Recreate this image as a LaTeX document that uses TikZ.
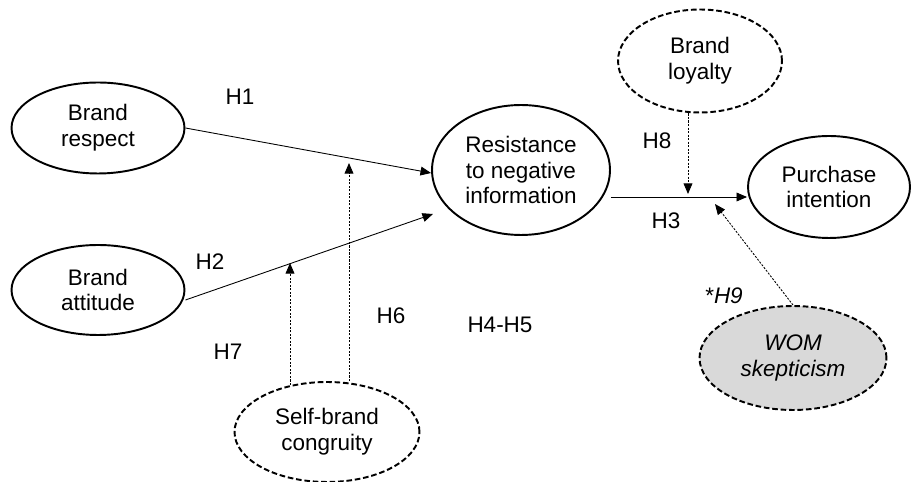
\documentclass[tikz,border=0pt]{standalone}
\usepackage{fontspec}
\setmainfont{Liberation Sans}
\usetikzlibrary{shapes.geometric}
\usetikzlibrary{positioning}
\usetikzlibrary{arrows.meta}

\tikzset{
    construct/.style={ellipse, draw, line width=1.1pt, inner sep=0pt, align=center, font=\fontsize{12.8}{14.6}\selectfont},
    moderator/.style={construct, dashed, dash pattern=on 3.2pt off 1.6pt},
    path_arrow/.style={-{Triangle[length=6pt,width=5pt]}, line width=0.5pt},
    mod_arrow/.style={-{Triangle[length=6pt,width=5pt]}, line width=0.5pt, dash pattern=on 1.2pt off 0.8pt},
    hyp/.style={font=\fontsize{12.8}{14.6}\selectfont}
}

\begin{document}
\begin{tikzpicture}[x=0.02cm, y=-0.02cm]
    \useasboundingbox (0,0) rectangle (917,482);

    \node (brand_respect) [construct, minimum width=3.46cm, minimum height=1.82cm] at (98,128) {Brand\\respect};
    \node (brand_attitude) [construct, minimum width=3.46cm, minimum height=1.8cm] at (98,290) {Brand\\attitude};
    \node (resistance) [construct, minimum width=3.56cm, minimum height=2.6cm] at (521,170) {Resistance\\to negative\\information};
    \node (purchase) [construct, minimum width=3.24cm, minimum height=2.04cm] at (829,187) {Purchase\\intention};
    \node (loyalty) [moderator, minimum width=3.28cm, minimum height=2.06cm] at (700,61) {Brand\\loyalty};
    \node (wom) [moderator, fill=gray!30, minimum width=3.74cm, minimum height=2.08cm] at (793,358) {\itshape WOM\\\itshape skepticism};
    \node (congruity) [moderator, minimum width=3.7cm, minimum height=2cm] at (327,432) {Self-brand\\congruity};

    \coordinate (h7_end) at (290,263);
    \coordinate (h6_end) at (349,163);
    \coordinate (h8_end) at (688,194);
    \coordinate (h9_end) at (715,204);

    \draw [path_arrow] (brand_respect.east) -- (resistance.west |- 0,173);
    \draw [path_arrow] (brand_attitude.east) ++(0,10) -- (433,214);
    \draw [path_arrow] (resistance.east) ++(0,27) -- (purchase.west |- 0,197);

    \draw [mod_arrow] (congruity.north -| h7_end) ++(0,4) -- (h7_end);
    \draw [mod_arrow] (congruity.north -| h6_end) -- (h6_end);
    \draw [mod_arrow] (loyalty.south -| h8_end) -- (h8_end);
    \draw [mod_arrow] (wom.north) -- (h9_end);

    \node (h1) [hyp] at (240,97) {H1};
    \node (h2) [hyp] at (210,262) {H2};
    \node (h7) [hyp] at (228,352) {H7};
    \node (h6) [hyp] at (391,316) {H6};
    \node (h45) [hyp] at (500,325) {H4-H5};
    \node (h8) [hyp] at (657,141) {H8};
    \node (h3) [hyp] at (666,221) {H3};
    \node (h9) [hyp] at (724,296) {*\itshape H9};
\end{tikzpicture}
\end{document}
